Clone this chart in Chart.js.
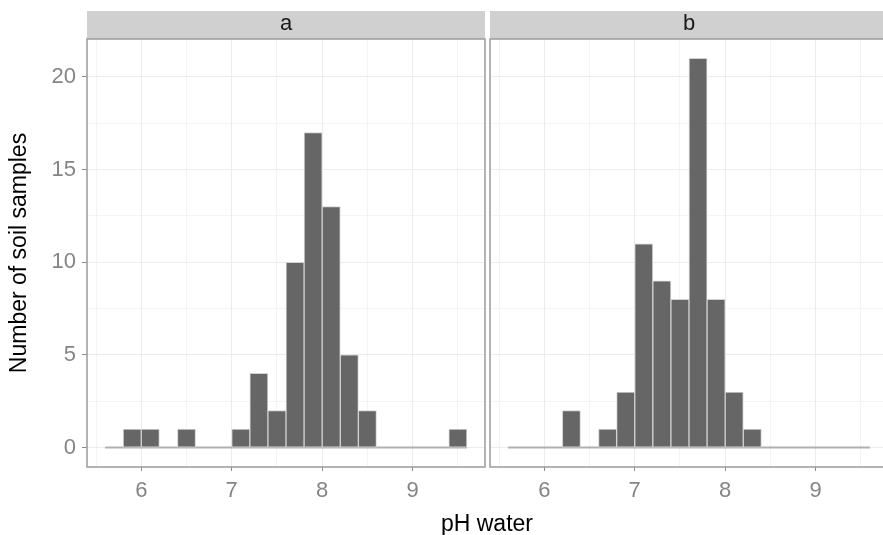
<!DOCTYPE html>
<html>
<head>
<meta charset="utf-8">
<title>pH water histogram</title>
<script src="https://cdn.jsdelivr.net/npm/chart.js@4.4.1/dist/chart.umd.min.js"></script>
<style>
  html, body { margin: 0; padding: 0; background: #fff; overflow: hidden; width: 883px; height: 535px; }
  #wrap { position: relative; width: 883px; height: 535px; overflow: hidden; }
  canvas { position: absolute; top: 0; }
  #chartA { left: 0; }
  #chartB { left: 487px; }
  #xTitle { position: absolute; left: 387px; width: 200px; top: 510px; text-align: center;
            font: 23px "Liberation Sans", Arial, sans-serif; line-height: 27px; color: #000; }
</style>
</head>
<body>
<div id="wrap">
  <canvas id="chartA" width="487" height="535"></canvas>
  <canvas id="chartB" width="401" height="535"></canvas>
  <div id="xTitle">pH water</div>
</div>
<script>
// histogram bins: centre of each 0.2 wide pH bin
const binMids = [5.7, 5.9, 6.1, 6.3, 6.5, 6.7, 6.9, 7.1, 7.3, 7.5, 7.7, 7.9, 8.1, 8.3, 8.5, 8.7, 8.9, 9.1, 9.3, 9.5];
const binWidth = 0.2;
const countsA = [0, 1, 1, 0, 1, 0, 0, 1, 4, 2, 10, 17, 13, 5, 2, 0, 0, 0, 0, 1];
const countsB = [0, 0, 0, 2, 0, 1, 3, 11, 9, 8, 21, 8, 3, 1, 0, 0, 0, 0, 0, 0];
const facetLabels = ['a', 'b'];

const xMajor = [6, 7, 8, 9];
const xMinor = [5.5, 6.5, 7.5, 8.5, 9.5];
const yMajor = [0, 5, 10, 15, 20];
const yMinor = [2.5, 7.5, 12.5, 17.5];

const FONT = '"Liberation Sans", Arial, sans-serif';
const isIn = (list, v) => list.some(m => Math.abs(m - v) < 1e-9);

// grey facet strip on top + panel border
const facetPanel = {
    id: 'facetPanel',
    afterDraw(chart, args, opts) {
        const { ctx, chartArea: a } = chart;
        ctx.save();
        ctx.fillStyle = '#d0d0d0';
        ctx.fillRect(a.left, 11, a.right - a.left, a.top - 11);
        ctx.fillStyle = '#1a1a1a';
        ctx.font = '22px ' + FONT;
        ctx.textAlign = 'center';
        ctx.textBaseline = 'alphabetic';
        ctx.fillText(opts.label, (a.left + a.right) / 2, 30);
        ctx.strokeStyle = '#9a9a9a';
        ctx.lineWidth = 1.5;
        ctx.strokeRect(a.left, a.top, a.right - a.left, a.bottom - a.top);
        ctx.restore();
    }
};

function makePanel(canvasId, label, counts, showY) {
    return new Chart(document.getElementById(canvasId), {
        type: 'bar',
        data: {
            datasets: [{
                type: 'bar',
                data: binMids.map((x, i) => ({ x: x, y: counts[i] > 0 ? counts[i] : null })),
                backgroundColor: '#666666',
                borderColor: '#d3d3d3',
                borderWidth: 1,
                borderSkipped: false,
                barPercentage: 1,
                categoryPercentage: 1,
                order: 1
            }, {
                // zero-count bins show as a flat line along the bottom
                type: 'line',
                data: [
                    { x: binMids[0] - binWidth / 2, y: 0 },
                    { x: binMids[binMids.length - 1] + binWidth / 2, y: 0 }
                ],
                borderColor: '#b0b0b0',
                borderWidth: 2,
                pointRadius: 0,
                order: 2
            }]
        },
        options: {
            responsive: false,
            animation: false,
            devicePixelRatio: 1,
            layout: { padding: { top: 39, left: showY ? 0 : 3, right: showY ? 2 : 0, bottom: 0 } },
            plugins: {
                legend: { display: false },
                tooltip: { enabled: false },
                facetPanel: { label: label }
            },
            scales: {
                x: {
                    type: 'linear',
                    min: 5.4,
                    max: 9.8,
                    offset: false,
                    afterBuildTicks: s => {
                        s.ticks = [...xMinor, ...xMajor].sort((p, q) => p - q).map(v => ({ value: v }));
                    },
                    afterFit: s => { s.height = 68; },
                    ticks: {
                        autoSkip: false,
                        maxRotation: 0,
                        color: '#858585',
                        padding: 7,
                        font: { family: FONT, size: 22 },
                        callback: v => isIn(xMajor, v) ? String(v) : ''
                    },
                    grid: {
                        offset: false,
                        color: '#ececec',
                        lineWidth: c => isIn(xMajor, c.tick.value) ? 1 : 0.6,
                        tickLength: 4,
                        tickColor: c => isIn(xMajor, c.tick.value) ? '#8a8a8a' : 'rgba(0,0,0,0)'
                    },
                    border: { display: false }
                },
                y: {
                    min: -1.05,
                    max: 22.05,
                    afterBuildTicks: s => {
                        s.ticks = [...yMinor, ...yMajor].sort((p, q) => p - q).map(v => ({ value: v }));
                    },
                    afterFit: s => { s.width = showY ? 87 : 0; },
                    ticks: {
                        display: showY,
                        color: '#858585',
                        padding: 6,
                        font: { family: FONT, size: 22 },
                        callback: v => isIn(yMajor, v) ? String(v) : ''
                    },
                    grid: {
                        color: '#ececec',
                        lineWidth: c => isIn(yMajor, c.tick.value) ? 1 : 0.6,
                        drawTicks: showY,
                        tickLength: 5,
                        tickColor: c => isIn(yMajor, c.tick.value) ? '#8a8a8a' : 'rgba(0,0,0,0)'
                    },
                    border: { display: false },
                    title: {
                        display: showY,
                        text: 'Number of soil samples',
                        color: '#000',
                        font: { family: FONT, size: 23 },
                        padding: { top: 6, bottom: 0 }
                    }
                }
            }
        },
        plugins: [facetPanel]
    });
}

makePanel('chartA', facetLabels[0], countsA, true);
makePanel('chartB', facetLabels[1], countsB, false);
</script>
</body>
</html>
